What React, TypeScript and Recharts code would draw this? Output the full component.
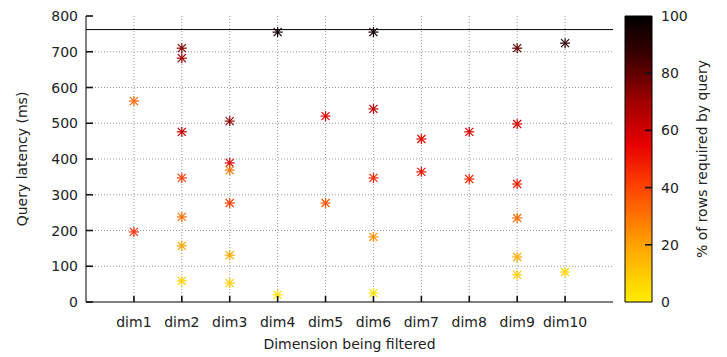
import React from 'react';
import {
  ScatterChart,
  Scatter,
  XAxis,
  YAxis,
  ReferenceLine,
  BarChart,
  Bar,
} from 'recharts';

const categories = ['dim1', 'dim2', 'dim3', 'dim4', 'dim5', 'dim6', 'dim7', 'dim8', 'dim9', 'dim10'];

// dimension index (1-based) for every measured query
const pointDim = [
  1, 1,
  2, 2, 2, 2, 2, 2, 2,
  3, 3, 3, 3, 3, 3,
  4, 4,
  5, 5,
  6, 6, 6, 6, 6,
  7, 7,
  8, 8,
  9, 9, 9, 9, 9, 9,
  10, 10,
];

const latencyMs = [
  562, 196,
  710, 682, 476, 347, 238, 157, 59,
  506, 389, 369, 277, 131, 53,
  755, 20,
  520, 277,
  755, 540, 347, 182, 25,
  456, 364,
  476, 344,
  710, 498, 330, 235, 126, 76,
  724, 84,
];

const rowsPct = [
  33, 45,
  74, 70, 62, 42, 31, 20, 8,
  72, 56, 30, 41, 18, 9,
  97, 3,
  57, 37,
  97, 64, 46, 24, 4,
  53, 51,
  56, 46,
  80, 59, 49, 31, 18, 9,
  90, 7,
];

const latencyTicks = [0, 100, 200, 300, 400, 500, 600, 700, 800];
const dimTicks = [1, 2, 3, 4, 5, 6, 7, 8, 9, 10];
const pctTicks = [0, 20, 40, 60, 80, 100];
const limitLineMs = 762;

const colorStops: [number, string][] = [
  [0, '#ffee00'],
  [20, '#ffa200'],
  [40, '#ff4400'],
  [55, '#e80000'],
  [70, '#a00000'],
  [85, '#420000'],
  [100, '#000000'],
];

const FONT = 'DejaVu Sans';
const TEXT = '#222';
const TICK_LEN = 6;
const TICK_W = 1.6;

function hexToRgb(h: string) {
  return [parseInt(h.slice(1, 3), 16), parseInt(h.slice(3, 5), 16), parseInt(h.slice(5, 7), 16)];
}

function pctColor(p: number) {
  for (let i = 0; i < colorStops.length - 1; i++) {
    const [a, ca] = colorStops[i];
    const [b, cb] = colorStops[i + 1];
    if (p >= a && p <= b) {
      const t = (p - a) / (b - a);
      const ra = hexToRgb(ca);
      const rb = hexToRgb(cb);
      const c = ra.map((v, k) => Math.round(v + (rb[k] - v) * t));
      return `rgb(${c[0]},${c[1]},${c[2]})`;
    }
  }
  return colorStops[colorStops.length - 1][1];
}

const points = pointDim.map((d, i) => ({ x: d, y: latencyMs[i], pct: rowsPct[i] }));

const Asterisk = (props: any) => {
  const { cx, cy, payload } = props;
  if (cx == null || cy == null) return null;
  const c = pctColor(payload.pct);
  const r = 5;
  const d = 4;
  return (
    <g stroke={c} strokeWidth={1.2}>
      <line x1={cx - r} y1={cy} x2={cx + r} y2={cy} />
      <line x1={cx} y1={cy - r} x2={cx} y2={cy + r} />
      <line x1={cx - d} y1={cy - d} x2={cx + d} y2={cy + d} />
      <line x1={cx - d} y1={cy + d} x2={cx + d} y2={cy - d} />
    </g>
  );
};

// Tick renderers: draw an inward tick mark at the axis position the library computes, plus the label.
const BottomTick = (props: any) => {
  const { x, y, payload } = props;
  return (
    <g>
      <line x1={x} y1={y} x2={x} y2={y - TICK_LEN} stroke="#111" strokeWidth={TICK_W} />
      <text x={x} y={y + 25} textAnchor="middle" fontSize={14} fontFamily={FONT} fill={TEXT}>
        {categories[payload.value - 1]}
      </text>
    </g>
  );
};

const TopTick = (props: any) => {
  const { x, y } = props;
  return <line x1={x} y1={y} x2={x} y2={y + TICK_LEN} stroke="#111" strokeWidth={TICK_W} />;
};

const LeftTick = (props: any) => {
  const { x, y, payload } = props;
  return (
    <g>
      <line x1={x} y1={y} x2={x + TICK_LEN + 1} y2={y} stroke="#111" strokeWidth={TICK_W} />
      <text x={x - 8} y={y + 5} textAnchor="end" fontSize={14} fontFamily={FONT} fill={TEXT}>
        {payload.value}
      </text>
    </g>
  );
};

const RightTick = (props: any) => {
  const { x, y } = props;
  return <line x1={x} y1={y} x2={x - TICK_LEN} y2={y} stroke="#111" strokeWidth={TICK_W} />;
};

const BarLeftTick = (props: any) => {
  const { x, y, payload } = props;
  if (payload.value === 0 || payload.value === 100) return null;
  return <line x1={x} y1={y} x2={x + 7} y2={y} stroke="#111" strokeWidth={TICK_W} />;
};

const BarRightTick = (props: any) => {
  const { x, y, payload } = props;
  const inner = payload.value !== 0 && payload.value !== 100;
  return (
    <g>
      {inner && <line x1={x} y1={y} x2={x - 7} y2={y} stroke="#111" strokeWidth={TICK_W} />}
      <text x={x + 9} y={y + 5} textAnchor="start" fontSize={14} fontFamily={FONT} fill={TEXT}>
        {payload.value}
      </text>
    </g>
  );
};

const gridProps = { stroke: '#9a9a9a', strokeDasharray: '1 2', strokeWidth: 1 };

export default function App() {
  return (
    <div style={{ position: 'absolute', left: 0, top: 0, width: 727, height: 357, background: '#fff' }}>
      <div style={{ position: 'absolute', left: 0, top: 0 }}>
        <ScatterChart width={727} height={357} margin={{ top: 16, right: 114, bottom: 0, left: 0 }}>
          {latencyTicks.slice(1, -1).map((v) => (
            <ReferenceLine key={`h${v}`} y={v} {...gridProps} />
          ))}
          {dimTicks.map((v) => (
            <ReferenceLine key={`v${v}`} x={v} {...gridProps} />
          ))}
          <XAxis
            dataKey="x"
            type="number"
            domain={[0, 11]}
            ticks={dimTicks}
            interval={0}
            height={55}
            tickSize={0}
            tickMargin={0}
            tickLine={false}
            tick={<BottomTick />}
            axisLine={{ stroke: '#000' }}
            label={{
              value: 'Dimension being filtered',
              position: 'insideBottom',
              offset: 8,
              style: { fontSize: 14, fontFamily: FONT, fill: TEXT },
            }}
          />
          <XAxis
            xAxisId="top"
            orientation="top"
            type="number"
            domain={[0, 11]}
            ticks={dimTicks}
            interval={0}
            height={0}
            tickSize={0}
            tickMargin={0}
            tickLine={false}
            tick={<TopTick />}
            axisLine={{ stroke: '#000' }}
          />
          <YAxis
            dataKey="y"
            type="number"
            domain={[0, 800]}
            ticks={latencyTicks}
            interval={0}
            width={86}
            tickSize={0}
            tickMargin={0}
            tickLine={false}
            tick={<LeftTick />}
            axisLine={{ stroke: '#000' }}
            label={{
              value: 'Query latency (ms)',
              angle: -90,
              position: 'insideLeft',
              offset: 22,
              style: { fontSize: 14, fontFamily: FONT, fill: TEXT, textAnchor: 'middle' },
            }}
          />
          <YAxis
            yAxisId="right"
            orientation="right"
            type="number"
            domain={[0, 800]}
            ticks={latencyTicks}
            interval={0}
            width={0}
            tickSize={0}
            tickMargin={0}
            tickLine={false}
            tick={<RightTick />}
            axisLine={{ stroke: '#000' }}
          />
          <ReferenceLine y={limitLineMs} stroke="#000" strokeWidth={1} />
          <Scatter data={points} shape={<Asterisk />} isAnimationActive={false} />
        </ScatterChart>
      </div>
      <div style={{ position: 'absolute', left: 0, top: 0 }}>
        <BarChart
          width={727}
          height={357}
          data={[{ name: 'bar', v: 100 }]}
          margin={{ top: 16, right: 0, bottom: 55, left: 625 }}
          barCategoryGap={0}
        >
          <defs>
            <linearGradient id="cbGrad" x1="0" y1="1" x2="0" y2="0">
              {colorStops.map(([p, c]) => (
                <stop key={p} offset={`${p}%`} stopColor={c} />
              ))}
            </linearGradient>
          </defs>
          <XAxis dataKey="name" hide />
          <YAxis
            yAxisId="cbLeft"
            orientation="left"
            type="number"
            domain={[0, 100]}
            ticks={pctTicks}
            interval={0}
            width={0}
            tickSize={0}
            tickMargin={0}
            tickLine={false}
            tick={<BarLeftTick />}
            axisLine={false}
          />
          <YAxis
            orientation="right"
            type="number"
            domain={[0, 100]}
            ticks={pctTicks}
            interval={0}
            width={75}
            tickSize={0}
            tickMargin={0}
            tickLine={false}
            tick={<BarRightTick />}
            axisLine={false}
            label={{
              value: '% of rows required by query',
              angle: -90,
              position: 'insideRight',
              offset: 25,
              style: { fontSize: 14, fontFamily: FONT, fill: TEXT, textAnchor: 'middle' },
            }}
          />
          <Bar dataKey="v" fill="url(#cbGrad)" stroke="#000" strokeWidth={1} isAnimationActive={false} />
        </BarChart>
      </div>
    </div>
  );
}
